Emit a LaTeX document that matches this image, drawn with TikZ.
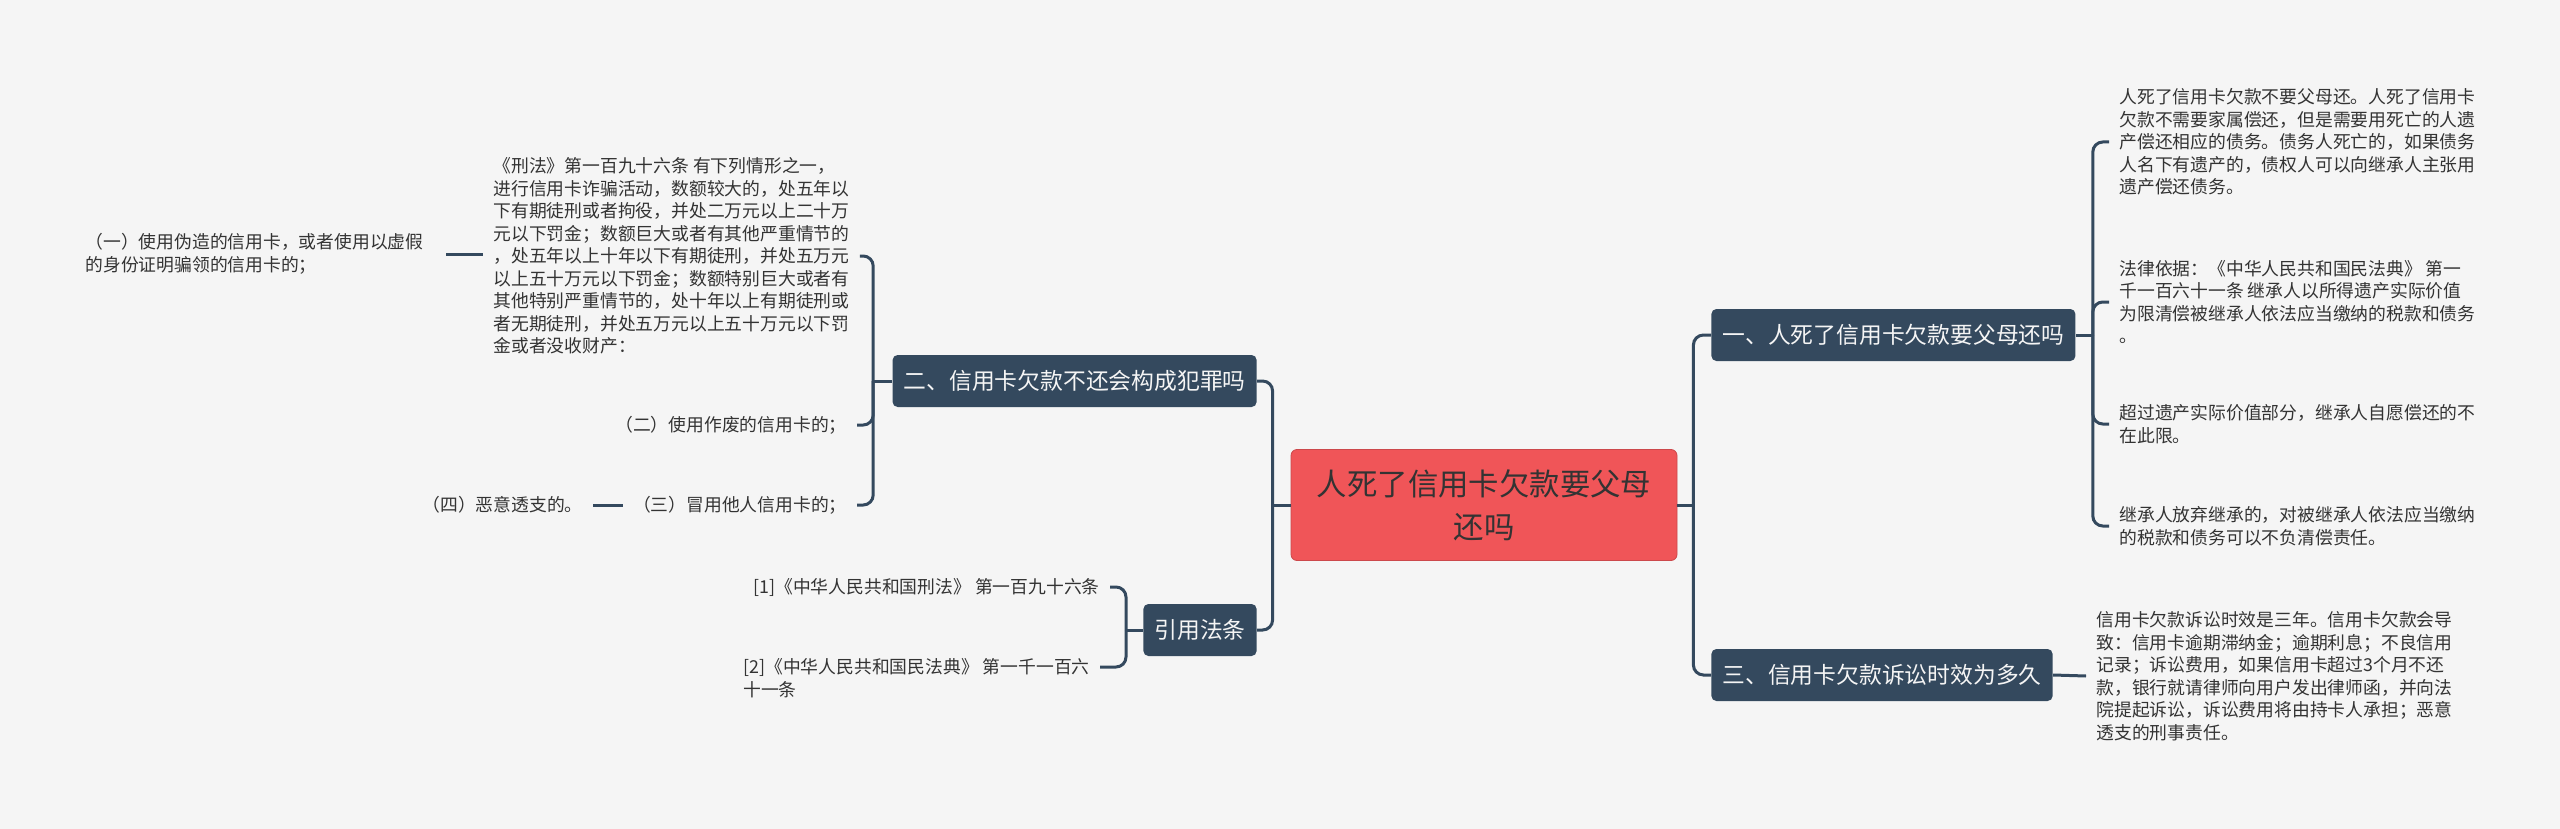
\documentclass[tikz,border=0pt]{standalone}
\usepackage{fontspec}
\setmainfont{Noto Sans CJK SC}
\definecolor{bgcol}{HTML}{F5F5F5}
\definecolor{navy}{HTML}{34495E}
\definecolor{rootred}{HTML}{F05558}
\definecolor{txt}{HTML}{333333}
\tikzset{
  rootbox/.style={fill=rootred, draw=rootred!85!black, rounded corners=3pt, text=txt, align=center,
    minimum width=193pt, minimum height=55.5pt, font=\fontsize{15.2pt}{21.5pt}\selectfont},
  topic/.style={fill=navy, text=bgcol, rounded corners=2.5pt, minimum height=26pt, inner xsep=5.5pt,
    font=\fontsize{11.4pt}{14pt}\selectfont},
  leaf/.style={text=txt, align=left, inner xsep=5pt, inner ysep=2pt, font=\fontsize{8.9pt}{11.25pt}\selectfont},
  link/.style={draw=navy, line width=1.5pt, rounded corners=5pt},
}
\begin{document}
\begin{tikzpicture}[x=0.5pt, y=-0.5pt]
        \path[fill=bgcol, use as bounding box] (0,0) rectangle (2560,829);

        % main topic and branches
        \node[rootbox] (root) at (1484,505) {人死了信用卡欠款要父母\\还吗};
        \node[topic, anchor=west] (b1) at (1711,335) {一、人死了信用卡欠款要父母还吗};
        \node[topic, anchor=west] (b3) at (1711,675) {三、信用卡欠款诉讼时效为多久};
        \node[topic, anchor=east] (b2) at (1257,381) {二、信用卡欠款不还会构成犯罪吗};
        \node[topic, anchor=east] (b4) at (1257,630) {引用法条};

        % right leaves
        \node[leaf, anchor=west] (la) at (2109,142) {人死了信用卡欠款不要父母还。人死了信用卡\\欠款不需要家属偿还，但是需要用死亡的人遗\\产偿还相应的债务。债务人死亡的，如果债务\\人名下有遗产的，债权人可以向继承人主张用\\遗产偿还债务。};
        \node[leaf, anchor=west] (lb) at (2109,302) {法律依据：《中华人民共和国民法典》 第一\\千一百六十一条 继承人以所得遗产实际价值\\为限清偿被继承人依法应当缴纳的税款和债务\\。};
        \node[leaf, anchor=west] (lc) at (2109,424) {超过遗产实际价值部分，继承人自愿偿还的不\\在此限。};
        \node[leaf, anchor=west] (ld) at (2109,526) {继承人放弃继承的，对被继承人依法应当缴纳\\的税款和债务可以不负清偿责任。};
        \node[leaf, anchor=west] (t1) at (2086,676) {信用卡欠款诉讼时效是三年。信用卡欠款会导\\致：信用卡逾期滞纳金；逾期利息；不良信用\\记录；诉讼费用，如果信用卡超过3个月不还\\款，银行就请律师向用户发出律师函，并向法\\院提起诉讼，诉讼费用将由持卡人承担；恶意\\透支的刑事责任。};

        % left leaves
        \node[leaf, anchor=west] (big) at (483,256) {《刑法》第一百九十六条 有下列情形之一，\\进行信用卡诈骗活动，数额较大的，处五年以\\下有期徒刑或者拘役，并处二万元以上二十万\\元以下罚金；数额巨大或者有其他严重情节的\\，处五年以上十年以下有期徒刑，并处五万元\\以上五十万元以下罚金；数额特别巨大或者有\\其他特别严重情节的，处十年以上有期徒刑或\\者无期徒刑，并处五万元以上五十万元以下罚\\金或者没收财产：};
        \node[leaf, anchor=west] (l1) at (75,254) {（一）使用伪造的信用卡，或者使用以虚假\\的身份证明骗领的信用卡的；};
        \node[leaf, anchor=east] (l2) at (857,425) {（二）使用作废的信用卡的；};
        \node[leaf, anchor=east] (l3) at (857,505) {（三）冒用他人信用卡的；};
        \node[leaf, anchor=east] (l4) at (593,505) {（四）恶意透支的。};
        \node[leaf, anchor=east] (r1) at (1110,587) {[1]《中华人民共和国刑法》 第一百九十六条};
        \node[leaf, anchor=east] (r2) at (1100,678) {[2]《中华人民共和国民法典》 第一千一百六\\十一条};

        % connectors
        \draw[link] (root.west) -- ++(-18,0) coordinate (jl);
        \draw[link] (jl) |- (b2.east);
        \draw[link] (jl) |- (b4.east);
        \draw[link] (root.east) -- ++(16,0) coordinate (jr);
        \draw[link] (jr) |- (b1.west);
        \draw[link] (jr) |- (b3.west);

        \draw[link] (b1.east) -- ++(17,0) coordinate (j1);
        \foreach \n in {la,lb,lc,ld}
            \draw[link] (j1) |- (\n.west);
        \draw[link] (b3.east) -- (t1.west);

        \draw[link] (b2.west) -- ++(-19,0) coordinate (j2);
        \foreach \n in {big,l2,l3}
            \draw[link] (j2) |- (\n.east);
        \draw[link, shorten <=6pt] (l1.east) -- (l1.east -| big.west);
        \draw[link] (l4.east) -- (l3.west);

        \draw[link] (b4.west) -- ++(-17,0) coordinate (j4);
        \draw[link] (j4) |- (r1.east);
        \draw[link] (j4) |- ([yshift=5.5pt]r2.east);
\end{tikzpicture}
\end{document}
